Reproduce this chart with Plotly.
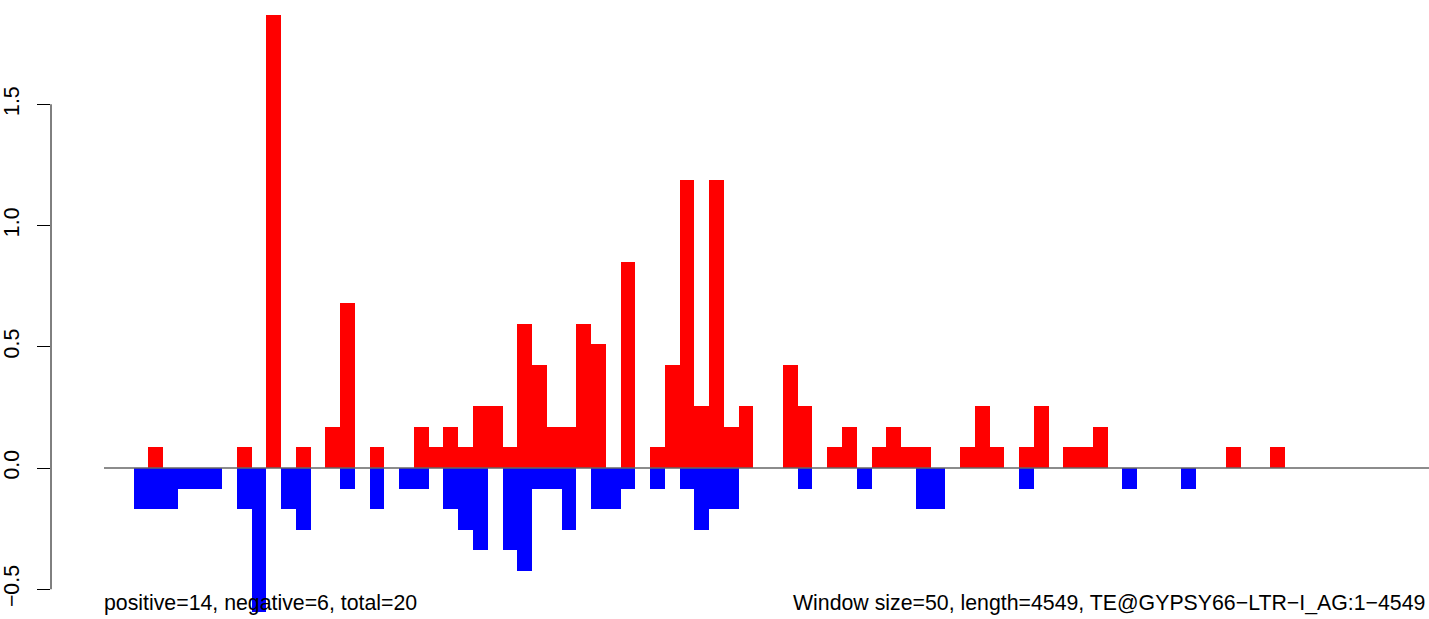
import plotly.graph_objects as go

# ---- data ----
window_size = 50
seq_length = 4549
window_index = list(range(91))  # windows 0..90 (start = index * 50)

positive = [
    0, 0, 0, 0.0849, 0, 0, 0, 0, 0, 0.0849,
    0, 1.8678, 0, 0.0849, 0, 0.1698, 0.6792, 0, 0.0849, 0,
    0, 0.1698, 0.0849, 0.1698, 0.0849, 0.2547, 0.2547, 0.0849, 0.5943, 0.4245,
    0.1698, 0.1698, 0.5943, 0.5094, 0, 0.849, 0, 0.0849, 0.4245, 1.1886,
    0.2547, 1.1886, 0.1698, 0.2547, 0, 0, 0.4245, 0.2547, 0, 0.0849,
    0.1698, 0, 0.0849, 0.1698, 0.0849, 0.0849, 0, 0, 0.0849, 0.2547,
    0.0849, 0, 0.0849, 0.2547, 0, 0.0849, 0.0849, 0.1698, 0, 0,
    0, 0, 0, 0, 0, 0, 0.0849, 0, 0, 0.0849,
    0, 0, 0, 0, 0, 0, 0, 0, 0, 0,
    0,
]

negative = [
    0, 0, -0.1698, -0.1698, -0.1698, -0.0849, -0.0849, -0.0849, 0, -0.1698,
    -0.5943, 0, -0.1698, -0.2547, 0, 0, -0.0849, 0, -0.1698, 0,
    -0.0849, -0.0849, 0, -0.1698, -0.2547, -0.3396, 0, -0.3396, -0.4245, -0.0849,
    -0.0849, -0.2547, 0, -0.1698, -0.1698, -0.0849, 0, -0.0849, 0, -0.0849,
    -0.2547, -0.1698, -0.1698, 0, 0, 0, 0, -0.0849, 0, 0,
    0, -0.0849, 0, 0, 0, -0.1698, -0.1698, 0, 0, 0,
    0, 0, -0.0849, 0, 0, 0, 0, 0, 0, -0.0849,
    0, 0, 0, -0.0849, 0, 0, 0, 0, 0, 0,
    0, 0, 0, 0, 0, 0, 0, 0, 0, 0,
    0,
]

y_ticks = [-0.5, 0.0, 0.5, 1.0, 1.5]
y_tick_labels = ["\u22120.5", "0.0", "0.5", "1.0", "1.5"]

left_label = "positive=14, negative=6, total=20"
right_label = "Window size=50, length=4549, TE@GYPSY66\u2212LTR\u2212I_AG:1\u22124549"

# ---- figure ----
centers = [i * window_size + window_size / 2 for i in window_index]
FONT = "Liberation Sans, Arial, Helvetica, sans-serif"
X_RANGE = [-179.5, 4488.5]
FS = 21.3

fig = go.Figure()
fig.add_trace(go.Bar(x=centers, y=positive, width=window_size,
                     marker=dict(color="#FF0000", line=dict(width=0)),
                     showlegend=False, hoverinfo="skip"))
fig.add_trace(go.Bar(x=centers, y=negative, width=window_size,
                     marker=dict(color="#0000FF", line=dict(width=0)),
                     showlegend=False, hoverinfo="skip"))

W, H = 1429, 619
L = 51
fig.update_layout(
    width=W, height=H,
    margin=dict(l=L, r=0, t=0, b=0, autoexpand=False),
    paper_bgcolor="white", plot_bgcolor="white",
    barmode="overlay", bargap=0,
    font=dict(family=FONT, size=FS, color="black"),
    xaxis=dict(range=X_RANGE, visible=False, automargin=False),
    yaxis=dict(range=[-0.6227, 1.930], showgrid=False, zeroline=False,
               showline=False, ticks="outside", ticklen=13, tickwidth=1,
               tickcolor="black", tickvals=y_ticks, ticktext=y_tick_labels,
               tickangle=-90, ticklabelstandoff=9, automargin=False,
               tickfont=dict(family=FONT, size=FS, color="black")),
)

# y axis line spanning only the tick range (R style)
fig.add_shape(type="line", xref="paper", yref="y", x0=0, x1=0,
              y0=y_ticks[0], y1=y_ticks[-1], line=dict(color="black", width=1))
# zero reference line
fig.add_shape(type="line", xref="x", yref="y", x0=0, x1=seq_length,
              y0=0, y1=0, line=dict(color="#666666", width=1.5), layer="above")

def px_to_paper(px):
    return (px - L) / (W - L)

text_y = (H - 603) / H
fig.add_annotation(text=left_label, xref="paper", yref="paper", x=px_to_paper(102),
                   y=text_y, xanchor="left", yanchor="middle",
                   showarrow=False, font=dict(family=FONT, size=FS, color="black"))
fig.add_annotation(text=right_label, xref="paper", yref="paper", x=px_to_paper(1427),
                   y=text_y, xanchor="right", yanchor="middle",
                   showarrow=False, font=dict(family=FONT, size=FS, color="black"))

fig.write_html("out.html", config={"displayModeBar": False},
               post_script="document.body.style.margin='0';document.body.style.overflow='hidden';")
